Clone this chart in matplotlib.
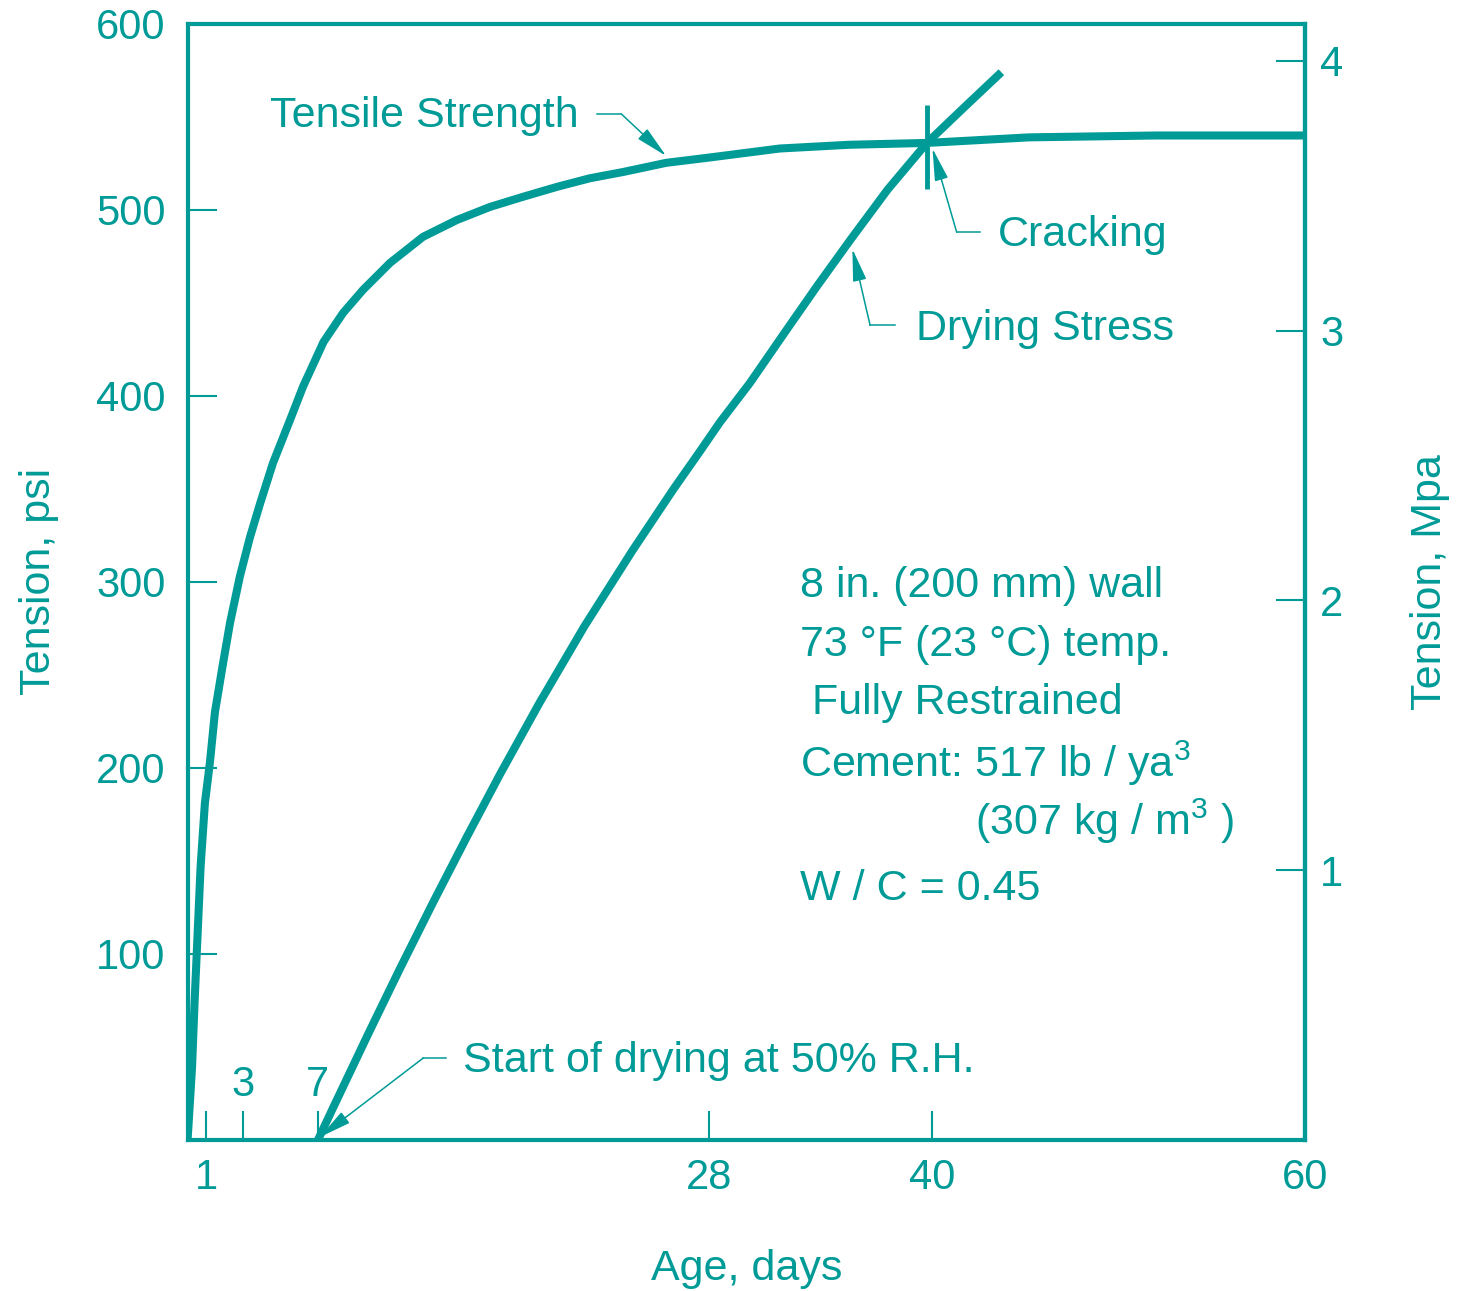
import matplotlib.pyplot as plt
from matplotlib.ticker import FixedLocator, FixedFormatter

plt.rcParams["font.family"] = ["Liberation Sans", "DejaVu Sans"]
plt.rcParams["mathtext.fontset"] = "custom"
plt.rcParams["mathtext.rm"] = "Liberation Sans"
plt.rcParams["mathtext.it"] = "Liberation Sans"

teal = "#009b97"

# tensile strength (psi) against age (days)
tensile_days = [0, 0.05, 0.24, 0.38, 0.54, 0.7, 0.93, 1.2, 1.47, 1.85, 2.28,
                2.81, 3.35, 3.89, 4.59, 5.5, 6.2, 7.3, 8.35, 9.42, 10.87,
                12.64, 14.47, 16.24, 18.0, 19.84, 21.6, 23.4, 25.7, 27.9,
                31.8, 35.5, 39.7, 45.2, 52, 60]
tensile_psi = [0, 8, 39, 75, 111, 147, 181, 203, 230, 253, 278,
               303, 324, 342, 364, 387, 405, 429, 444.6, 457, 471.5,
               485.5, 494.6, 501.6, 507, 512.4, 517, 520.4, 525.3, 528,
               533, 535, 536, 539, 540, 540]

# drying stress (psi), starts at 7 days
drying_days = [7, 7.8, 9.7, 11.4, 13.2, 15.0, 16.8, 18.9, 21.3, 23.9, 26.1,
               27.5, 28.6, 30.2, 32.2, 33.8, 35.6, 37.6, 39.7, 41.9, 43.7]
drying_psi = [0, 17, 57, 92, 128, 163, 197, 235, 276, 317, 350,
              370, 386, 407, 436, 459, 484, 511, 536, 557, 574]

crack_day, crack_psi = 39.7, 534

x_major = [1, 28, 40, 60]
x_minor = [3, 7]
psi_ticks = [100, 200, 300, 400, 500, 600]
mpa_ticks = [1, 2, 3, 4]
psi_per_mpa = 145.04

notes = [
    "8 in. (200 mm) wall",
    "73 °F (23 °C) temp.",
    " Fully Restrained",
    r"Cement: 517 lb / ya$^{\mathregular{3}}$",
]

FS = 31

fig = plt.figure(figsize=(14.7, 12.91), dpi=100)
ax = fig.add_axes([0.1276, 0.117, 0.7601, 0.8645])

ax.plot(tensile_days, tensile_psi, color=teal, lw=5.8, solid_capstyle="butt",
        solid_joinstyle="round")
ax.plot(drying_days, drying_psi, color=teal, lw=5.8, solid_capstyle="butt",
        solid_joinstyle="round")
ax.plot([crack_day], [crack_psi], marker="|", ms=61, mew=3.5, color=teal)

ax.set_xlim(0, 60)
ax.set_ylim(0, 600)

for s in ax.spines.values():
    s.set_color(teal)
    s.set_linewidth(3)

ax.xaxis.set_major_locator(FixedLocator(x_major))
ax.xaxis.set_minor_locator(FixedLocator(x_minor))
ax.xaxis.set_minor_formatter(FixedFormatter([str(v) for v in x_minor]))
ax.set_yticks(psi_ticks)
ax.tick_params(axis="both", which="both", direction="in", length=21, width=1.5,
               colors=teal, labelsize=30, right=False, top=False)
ax.tick_params(axis="x", which="major", pad=13)
ax.tick_params(axis="x", which="minor", pad=-54)
ax.tick_params(axis="y", pad=16)

sec = ax.secondary_yaxis("right", functions=(lambda p: p / psi_per_mpa,
                                              lambda m: m * psi_per_mpa))
sec.set_yticks(mpa_ticks)
sec.tick_params(direction="in", length=21, width=1.5, colors=teal,
                labelsize=30, pad=11)
sec.spines["right"].set_color(teal)
sec.spines["right"].set_linewidth(3)
sec.set_ylabel("Tension, Mpa", fontsize=FS, color=teal)
sec.yaxis.set_label_coords(1.094, 0.5, transform=ax.transAxes)

ax.set_ylabel("Tension, psi", fontsize=FS, color=teal)
ax.yaxis.set_label_coords(-0.115, 0.5)
ax.set_xlabel("Age, days", fontsize=FS, color=teal)
ax.xaxis.set_label_coords(0.5006, -0.098)

# call-outs: text, text position, leader start, knee, arrow tip
callouts = [
    ("Tensile Strength", (4.45, 550.5), (22.0, 551.5), (23.3, 551.5), (25.7, 529)),
    ("Cracking", (43.5, 486.5), (42.55, 488), (41.3, 488), (40.0, 533)),
    ("Drying Stress", (39.1, 436), (38.0, 438), (36.65, 438), (35.7, 479)),
    ("Start of drying at 50% R.H.", (14.8, 42.5), (13.9, 44), (12.65, 44), (7.1, 1.5)),
]
for label, txy, lstart, knee, tip in callouts:
    ax.text(txy[0], txy[1], label, fontsize=FS, color=teal, ha="left", va="center")
    ax.plot([lstart[0], knee[0]], [lstart[1], knee[1]], color=teal, lw=1.1)
    ax.annotate("", xy=tip, xytext=knee,
                arrowprops=dict(arrowstyle="-|>,head_length=2.0,head_width=0.42",
                                color=teal, lw=1.1, shrinkA=0, shrinkB=0,
                                mutation_scale=10))

note_y = [298, 266, 235, 202.7]
for t, y in zip(notes, note_y):
    ax.text(32.9, y, t, fontsize=FS, color=teal, ha="left", va="center")
ax.text(42.3, 171.5, r"(307 kg / m$^{\mathregular{3}}$ )", fontsize=FS, color=teal,
        ha="left", va="center")
ax.text(32.9, 135, "W / C = 0.45", fontsize=FS, color=teal, ha="left", va="center")

fig.savefig("out.png", dpi=100)
